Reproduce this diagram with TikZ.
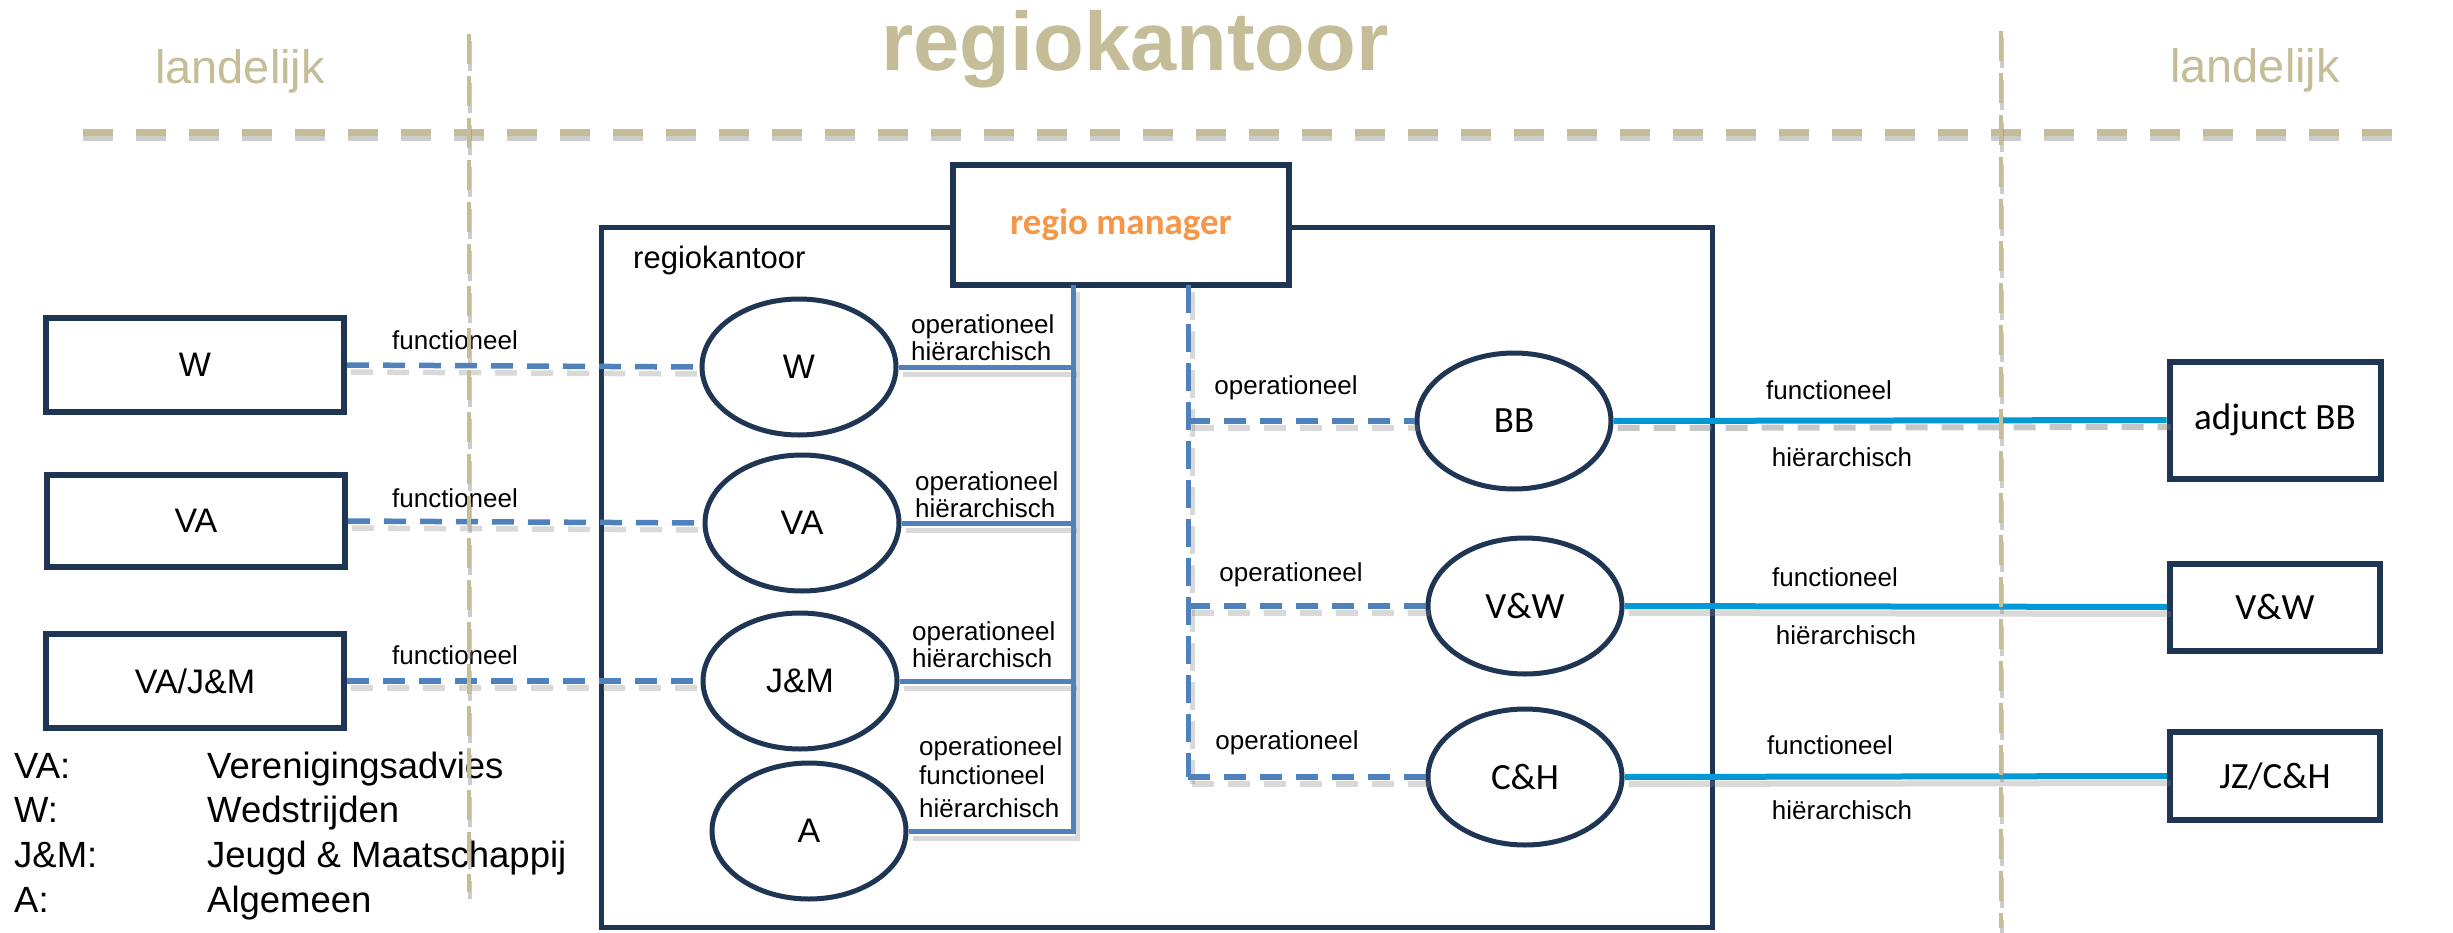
\documentclass[tikz,border=0pt]{standalone}
\usepackage{fontspec}
\setmainfont{Liberation Sans}
\newfontfamily\calib{Carlito}
\usetikzlibrary{shapes.geometric,calc}
\definecolor{navy}{RGB}{31,53,84}
\definecolor{khaki}{RGB}{196,189,151}
\definecolor{accblue}{RGB}{79,129,189}
\definecolor{cyanb}{RGB}{0,153,214}
\definecolor{orng}{RGB}{247,150,70}
\newcommand\fs[1]{\fontsize{#1}{#1}\selectfont}
\newcommand\links[5]{%
 \draw[#1] (bW.east) -- (eW.west);
 \draw[#1] (bVA.east) -- (eVA.west);
 \draw[#1] (bVJ.east) -- (eJM.west);
 \draw[#2] (bus) -- (bus |- eA.east) -- (eA.east);
 \draw[#2] (eW.east) -- (eW.east -| bus);
 \draw[#2] (eVA.east) -- (eVA.east -| bus);
 \draw[#2] (eJM.east) -- (eJM.east -| bus);
 \draw[#3] (dbus) -- (dbus |- eCH.west);
 \draw[#1] (dbus |- eBB.west) -- (eBB.west);
 \draw[#1] (dbus |- eVW.west) -- (eVW.west);
 \draw[#1] (dbus |- eCH.west) -- (eCH.west);
 \draw[#5] (eBB.east) -- (adj.west);
 \draw[#4] (eVW.east) -- (rVW.west);
 \draw[#4] (eCH.east) -- (rJZ.west);
}
\begin{document}
\begin{tikzpicture}[x=1pt,y=-1pt,
  box/.style={draw=navy,line width=6pt,fill=white,inner sep=0pt},
  oval/.style={draw=navy,line width=5pt,ellipse,fill=white,minimum width=194pt,minimum height=136pt,inner sep=0pt},
  lab/.style={font=\fontsize{26}{27}\selectfont,inner sep=0pt},
  leg/.style={font=\fs{36.5},inner sep=0pt,anchor=base west},
  dashH/.style={draw=accblue,line width=5.5pt,dash pattern=on 22pt off 14pt},
  dashV/.style={draw=accblue,line width=5pt,dash pattern=on 28pt off 11pt},
  solidB/.style={draw=accblue,line width=5pt},
  solidC/.style={draw=cyanb,line width=6pt},
  shd/.style={draw=gray,draw opacity=.3},
  khH/.style={line width=7pt,dash pattern=on 30pt off 23pt},
  khV/.style={line width=4pt,dash pattern=on 30pt off 12pt}]
\useasboundingbox (0,0) rectangle (2453,932);

% titles
\node[font=\bfseries\fs{83},text=khaki,anchor=base,inner sep=0pt] (title) at (1135,70) {regiokantoor};
\node[font=\fs{47},text=khaki,anchor=base,inner sep=0pt] (landL) at (240,83) {landelijk};
\node[font=\fs{47},text=khaki,anchor=base,inner sep=0pt] (landR) at (2255,82) {landelijk};

% office
\node[draw=navy,line width=5pt,minimum width=1111pt,minimum height=700pt,inner sep=0pt] (office) at (1156.5,577) {};
\node[box,minimum width=336pt,minimum height=120pt,font=\calib\bfseries\fs{37},text=orng] (RM) at (1121,225) {regio manager};
\node[anchor=base west,font=\fs{31},inner sep=0pt] (rk) at (633,268) {regiokantoor};

% left boxes
\node[box,minimum width=298pt,minimum height=94pt,font=\fs{34}] (bW) at (195,365) {W};
\node[box,minimum width=298pt,minimum height=92pt,font=\fs{34}] (bVA) at (196,521) {VA};
\node[box,minimum width=298pt,minimum height=94pt,font=\fs{34}] (bVJ) at (195,681) {VA/J\&M};

% ellipses
\node[oval,font=\fs{34}] (eW) at (799,367) {W};
\node[oval,font=\fs{34}] (eVA) at (802,523) {VA};
\node[oval,font=\fs{34}] (eJM) at (800,681) {J\&M};
\node[oval,font=\fs{34}] (eA) at (809,831) {A};
\node[oval,font=\calib\fs{37}] (eBB) at (1514,421) {BB};
\node[oval,font=\calib\fs{37}] (eVW) at (1525,606) {V\&W};
\node[oval,font=\calib\fs{37}] (eCH) at (1525,777) {C\&H};

% right boxes
\node[box,minimum width=211pt,minimum height=117pt,font=\calib\fs{37}] (adj) at (2275,420) {adjunct BB};
\node[box,minimum width=210pt,minimum height=87pt,font=\calib\fs{37}] (rVW) at (2275,607) {V\&W};
\node[box,minimum width=210pt,minimum height=88pt,font=\calib\fs{37}] (rJZ) at (2275,776) {JZ/C\&H};

\coordinate (bus) at (1073,285);
\coordinate (dbus) at (1188,285);

% connectors with shadows
\begin{scope}[transform canvas={shift={(4pt,-7pt)}}]
\links{dashH,shd}{solidB,shd}{dashV,shd}{solidC,shd}{dashH,shd,line width=6pt,draw opacity=.45}
\end{scope}
\links{dashH}{solidB}{dashV}{solidC}{solidC}

% labels
\node[lab,anchor=west,align=left] (lW) at (911,338) {operationeel\\hiërarchisch};
\node[lab,anchor=west,align=left] (lVA) at (915,495) {operationeel\\hiërarchisch};
\node[lab,anchor=west,align=left] (lJM) at (912,645) {operationeel\\hiërarchisch};
\node[lab,anchor=west,align=left,font=\fontsize{26}{29}\selectfont] (lA) at (919,777) {operationeel\\functioneel\\[4pt]hiërarchisch};
\node[lab] (fW) at (455,340) {functioneel};
\node[lab] (fVA) at (455,498) {functioneel};
\node[lab] (fJM) at (455,655) {functioneel};
\node[lab] (oBB) at (1286,388) {operationeel};
\node[lab] (oVW) at (1291,575) {operationeel};
\node[lab] (oCH) at (1287,743) {operationeel};
\node[lab] (fBB) at (1829,390) {functioneel};
\node[lab] (fVW) at (1835,577) {functioneel};
\node[lab] (fCH) at (1830,745) {functioneel};
\node[lab] (hBB) at (1842,457) {hiërarchisch};
\node[lab] (hVW) at (1846,635) {hiërarchisch};
\node[lab] (hCH) at (1842,810) {hiërarchisch};

% legend
\node[leg] (kVA) at (14,778) {VA:};
\node[leg] (dVA) at (207,778) {Verenigingsadvies};
\node[leg] (kW) at (14,822) {W:};
\node[leg] (dW) at (207,822) {Wedstrijden};
\node[leg] (kJM) at (14,867) {J\&M:};
\node[leg] (dJM) at (207,867) {Jeugd \& Maatschappij};
\node[leg] (kA) at (14,912) {A:};
\node[leg] (dA) at (207,912) {Algemeen};

% khaki dashed separators
\coordinate (hL) at (83,132);  \coordinate (hR) at (2403,132);
\coordinate (vLt) at (469,34); \coordinate (vLb) at (469,892);
\coordinate (vRt) at (2001,31); \coordinate (vRb) at (2001,928);
\draw[khH,draw=gray,draw opacity=.4] ([yshift=-5pt]hL) -- ([yshift=-5pt]hR);
\draw[khH,draw=khaki] (hL) -- (hR);
\draw[khV,draw=gray,draw opacity=.4] ([shift={(1pt,-7pt)}]vLt) -- ([shift={(1pt,-7pt)}]vLb);
\draw[khV,draw=khaki] (vLt) -- (vLb);
\draw[khV,draw=gray,draw opacity=.4] ([shift={(1pt,-7pt)}]vRt) -- ([shift={(1pt,-7pt)}]vRb);
\draw[khV,draw=khaki] (vRt) -- (vRb);
\end{tikzpicture}
\end{document}
